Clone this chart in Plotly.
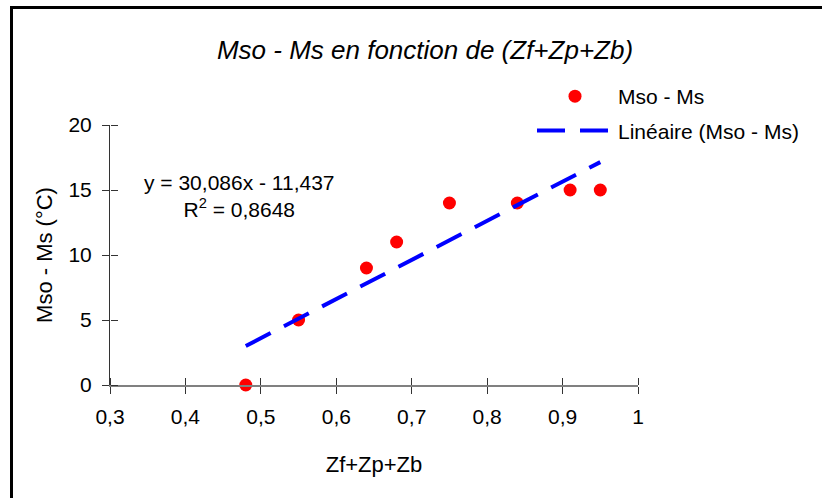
import numpy as np
import plotly.graph_objects as go

# Data
zsum = [0.48, 0.55, 0.64, 0.68, 0.75, 0.84, 0.91, 0.95]
delta_ms = [0, 5, 9, 11, 14, 14, 15, 15]
x_ticks = [0.3, 0.4, 0.5, 0.6, 0.7, 0.8, 0.9, 1.0]
x_tick_labels = ["0,3", "0,4", "0,5", "0,6", "0,7", "0,8", "0,9", "1"]
y_ticks = [0, 5, 10, 15, 20]

slope, intercept = np.polyfit(zsum, delta_ms, 1)
yhat = np.array(zsum) * slope + intercept
r2 = 1 - np.sum((np.array(delta_ms) - yhat) ** 2) / np.sum((np.array(delta_ms) - np.mean(delta_ms)) ** 2)
fit_x = [min(zsum), max(zsum)]
fit_y = [slope * v + intercept for v in fit_x]

def fr(v, n):
    return f"{v:.{n}f}".replace(".", ",")

eq_text = f"y = {fr(slope,3)}x - {fr(-intercept,3)}<br>R<sup>2</sup> = {fr(r2,4)}"

FONT = "Liberation Sans, Arial, sans-serif"
W, H = 822, 498
L, R, T, B = 110, 184, 125, 113
pw, ph = W - L - R, H - T - B

def px2paper_x(px):
    return (px - L) / pw

def px2paper_y(py):
    return (H - B - py) / ph

fig = go.Figure()
# invisible copy on the overlay axes (carries the inside half of the crossing ticks)
fig.add_trace(go.Scatter(x=zsum, y=delta_ms, xaxis="x2", yaxis="y2", mode="markers",
                         marker=dict(opacity=0), showlegend=False, hoverinfo="skip"))
fig.add_trace(go.Scatter(
    x=zsum, y=delta_ms, mode="markers", name="Mso - Ms",
    marker=dict(color="#ff0000", size=13), cliponaxis=False,
    legendgroup="a",
))
fig.add_trace(go.Scatter(
    x=fit_x, y=fit_y, mode="lines", name="Linéaire (Mso - Ms)",
    line=dict(color="#0000ff", width=4, dash="28px,15px"),
    legendgroup="b",
))

axis_common = dict(showgrid=False, zeroline=False, ticklen=7, tickwidth=1,
                   tickcolor="#333333")
fig.update_layout(
    width=W, height=H,
    margin=dict(l=L, r=R, t=T, b=B),
    paper_bgcolor="white", plot_bgcolor="rgba(0,0,0,0)",
    font=dict(family=FONT, size=21, color="black"),
    title=dict(text="<i>Mso - Ms en fonction de (Zf+Zp+Zb)</i>",
               font=dict(family=FONT, size=26, color="black"),
               x=425 / W, xanchor="center", xref="container",
               y=1 - 50 / H, yanchor="middle", yref="container"),
    xaxis=dict(range=[0.3, 1.0], tickvals=x_ticks, ticktext=x_tick_labels,
               ticks="outside", showline=True, linecolor="#808080", linewidth=1.5,
               title=dict(text="Zf+Zp+Zb", standoff=30, font=dict(size=22)),
               ticklabelstandoff=5, **axis_common),
    yaxis=dict(range=[0, 20], tickvals=y_ticks, ticks="outside",
               showline=True, linecolor="#333333", linewidth=1,
               title=dict(text="Mso - Ms (°C)", standoff=9, font=dict(size=22)),
               ticklabelstandoff=6, **axis_common),
    xaxis2=dict(range=[0.3, 1.0], tickvals=x_ticks, ticks="outside",
                showticklabels=False, overlaying="x", anchor="free", position=0,
                side="top", showline=False, **axis_common),
    yaxis2=dict(range=[0, 20], tickvals=y_ticks, ticks="outside",
                showticklabels=False, overlaying="y", anchor="free", position=0,
                side="right", showline=False, **axis_common),
    legend=dict(x=px2paper_x(532), y=px2paper_y(76), xanchor="left", yanchor="top",
                font=dict(family=FONT, size=21), itemwidth=76,
                traceorder="grouped", tracegroupgap=4, bgcolor="rgba(0,0,0,0)"),
    showlegend=True,
)

fig.add_annotation(text=eq_text, xref="paper", yref="paper",
                   x=px2paper_x(239), y=px2paper_y(196), showarrow=False,
                   align="center", xanchor="center", yanchor="middle",
                   font=dict(family=FONT, size=21, color="black"))

# chart frame (left and top edges visible)
fig.add_shape(type="rect", xref="paper", yref="paper",
              x0=px2paper_x(11.5), y0=px2paper_y(H + 40),
              x1=px2paper_x(W + 40), y1=px2paper_y(7.5),
              line=dict(color="black", width=3), layer="below")

fig.write_html("out.html", config={"displayModeBar": False},
               post_script="document.body.style.margin='0';document.body.style.overflow='hidden';")
